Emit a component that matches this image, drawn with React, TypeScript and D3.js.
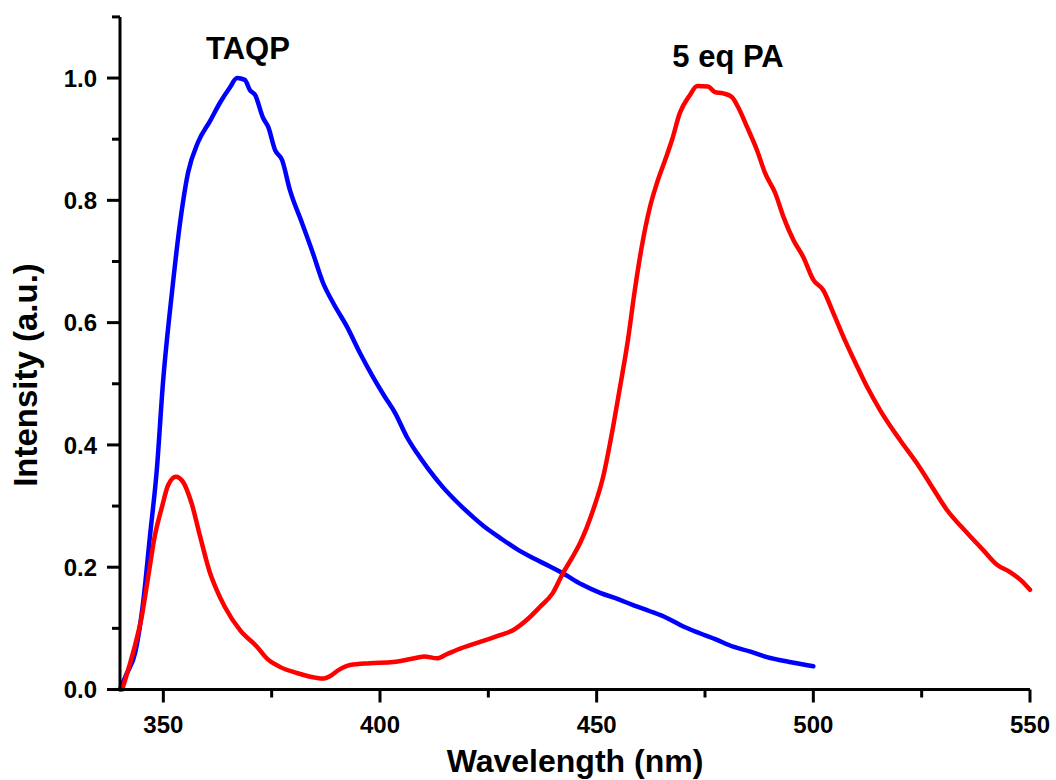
import React from "react";
import * as d3 from "d3";

const taqpWl = [340, 341.5, 343.5, 345.3, 346.9, 348.5, 349.9, 352, 353.8, 355.7, 358, 360.8, 363.1, 365.4, 367, 368.8, 370, 371.2, 373, 374.2, 375.8, 377.4, 379.2, 382, 384.5, 386.8, 389.2, 392.4, 395.4, 398.4, 401, 403.5, 406.2, 408.5, 411, 414.5, 418, 421.5, 424.5, 427.7, 431.5, 435.3, 439, 442.2, 446.5, 450.8, 454.5, 458.4, 462.3, 466.2, 470, 473.8, 477.5, 481.5, 485.5, 489.3, 494.5, 500];
const taqpInt = [0, 0.025, 0.06, 0.14, 0.25, 0.36, 0.5, 0.65, 0.76, 0.845, 0.895, 0.93, 0.96, 0.985, 1.0, 0.997, 0.98, 0.972, 0.935, 0.92, 0.882, 0.866, 0.817, 0.763, 0.714, 0.666, 0.632, 0.593, 0.55, 0.511, 0.48, 0.452, 0.413, 0.387, 0.362, 0.331, 0.305, 0.282, 0.264, 0.248, 0.23, 0.215, 0.202, 0.19, 0.172, 0.158, 0.149, 0.138, 0.128, 0.117, 0.103, 0.092, 0.082, 0.07, 0.062, 0.053, 0.045, 0.038];

const paWl = [340.5, 341.2, 343, 345, 346.5, 348, 349.7, 351.1, 352.9, 354.5, 356.5, 358.5, 360.8, 362.3, 364.2, 367.7, 371.6, 374, 376.9, 380.8, 385.4, 387, 388.5, 390.5, 393.1, 397.7, 403, 408.5, 410.2, 413.2, 415.5, 417.8, 423.1, 427.7, 430.7, 433.9, 436.9, 439.9, 442.2, 444.2, 446.2, 449.2, 451.5, 453.8, 455.4, 457.2, 458.8, 460.4, 462.3, 463.9, 465.8, 467.4, 469.2, 471.5, 473.2, 475.7, 477.3, 479.2, 481.2, 482.6, 484.7, 487, 488.9, 491.2, 493.1, 495.4, 497.7, 500, 502.3, 504.6, 507.3, 510, 512.4, 515.4, 520, 523.9, 526.9, 530.8, 535.5, 539.2, 542.4, 545.4, 548, 550];
const paInt = [0, 0.016, 0.06, 0.119, 0.184, 0.25, 0.299, 0.334, 0.348, 0.34, 0.305, 0.25, 0.19, 0.163, 0.135, 0.097, 0.07, 0.05, 0.037, 0.027, 0.019, 0.018, 0.022, 0.032, 0.04, 0.043, 0.045, 0.052, 0.054, 0.051, 0.058, 0.065, 0.078, 0.089, 0.097, 0.114, 0.135, 0.158, 0.19, 0.214, 0.24, 0.294, 0.348, 0.43, 0.495, 0.571, 0.653, 0.724, 0.789, 0.828, 0.866, 0.899, 0.943, 0.972, 0.987, 0.986, 0.977, 0.975, 0.969, 0.953, 0.92, 0.882, 0.844, 0.812, 0.773, 0.735, 0.707, 0.67, 0.653, 0.616, 0.571, 0.53, 0.495, 0.457, 0.408, 0.37, 0.337, 0.294, 0.256, 0.228, 0.204, 0.192, 0.178, 0.163];

const xMajorTicks = [350, 400, 450, 500, 550];
const xMinorTicks = [375, 425, 475, 525];
const yMajorTicks = [0, 0.2, 0.4, 0.6, 0.8, 1.0];
const yMinorTicks = [0.1, 0.3, 0.5, 0.7, 0.9, 1.1];

const seriesNames = ["TAQP", "5 eq PA"];
const seriesColors = ["#0000FF", "#FF0000"];

export default function App() {
  const W = 1056, H = 780;
  const x = d3.scaleLinear().domain([340, 550]).range([120, 1030]);
  const y = d3.scaleLinear().domain([0, 1.1]).range([689.5, 16.9]);
  const font = "'Liberation Sans', Arial, sans-serif";

  const line = d3
    .line<[number, number]>()
    .x((d) => x(d[0]))
    .y((d) => y(d[1]))
    .curve(d3.curveMonotoneX);

  const taqp: [number, number][] = taqpWl.map((w, i) => [w, taqpInt[i]]);
  const pa: [number, number][] = paWl.map((w, i) => [w, paInt[i]]);

  return (
    <svg
      width={W}
      height={H}
      style={{ position: "absolute", left: 0, top: 0, background: "#fff" }}
    >
      <rect width={W} height={H} fill="#fff" />
      <path d={line(taqp) || ""} fill="none" stroke={seriesColors[0]} strokeWidth={4.5} strokeLinejoin="round" strokeLinecap="round" />
      <path d={line(pa) || ""} fill="none" stroke={seriesColors[1]} strokeWidth={4.5} strokeLinejoin="round" strokeLinecap="round" />

      {/* axes */}
      <line x1={x(340)} x2={x(550)} y1={y(0)} y2={y(0)} stroke="#000" strokeWidth={3} />
      <line x1={x(340)} x2={x(340)} y1={y(0) + 1.5} y2={y(1.1)} stroke="#000" strokeWidth={3} />

      {xMajorTicks.map((t) => (
        <g key={"xM" + t}>
          <line x1={x(t)} x2={x(t)} y1={y(0)} y2={y(0) + 13} stroke="#000" strokeWidth={3} />
          <text x={x(t)} y={733} textAnchor="middle" fontFamily={font} fontWeight="bold" fontSize={24} fill="#000">
            {t}
          </text>
        </g>
      ))}
      {xMinorTicks.map((t) => (
        <line key={"xm" + t} x1={x(t)} x2={x(t)} y1={y(0)} y2={y(0) + 8} stroke="#000" strokeWidth={3} />
      ))}
      {yMajorTicks.map((t) => (
        <g key={"yM" + t}>
          <line x1={x(340) - 13} x2={x(340)} y1={y(t)} y2={y(t)} stroke="#000" strokeWidth={3} />
          <text x={97} y={y(t)} dy="0.36em" textAnchor="end" fontFamily={font} fontWeight="bold" fontSize={24} fill="#000">
            {t.toFixed(1)}
          </text>
        </g>
      ))}
      {yMinorTicks.map((t) => (
        <line key={"ym" + t} x1={x(340) - 8} x2={x(340)} y1={y(t)} y2={y(t)} stroke="#000" strokeWidth={3} />
      ))}

      <text x={575} y={772} textAnchor="middle" fontFamily={font} fontWeight="bold" fontSize={32} fill="#000">
        Wavelength (nm)
      </text>
      <text
        transform="translate(37,375) rotate(-90)"
        textAnchor="middle"
        fontFamily={font}
        fontWeight="bold"
        fontSize={33}
        fill="#000"
      >
        Intensity (a.u.)
      </text>

      <text x={248} y={59} textAnchor="middle" fontFamily={font} fontWeight="bold" fontSize={31} fill="#000">
        {seriesNames[0]}
      </text>
      <text x={728} y={67} textAnchor="middle" fontFamily={font} fontWeight="bold" fontSize={31} fill="#000">
        {seriesNames[1]}
      </text>
    </svg>
  );
}
